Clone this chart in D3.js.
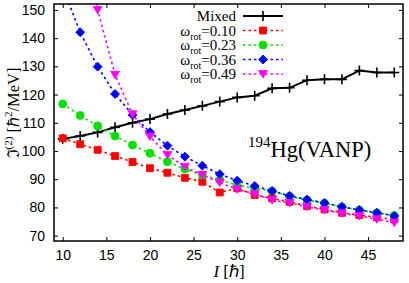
<!DOCTYPE html>
<html>
<head>
<meta charset="utf-8">
<script src="https://cdn.jsdelivr.net/npm/d3@7"></script>
<style>
  body { margin: 0; background: #fff; }
  svg { display: block; }
</style>
</head>
<body>
<div class="chart"></div>
<script>
// spin I (hbar)
var spins = [10, 12, 14, 16, 18, 20, 22, 24, 26, 28, 30, 32, 34, 36, 38, 40, 42, 44, 46, 48];

// dynamic moment of inertia J(2), hbar^2/MeV
var mixed  = [104.3, 105.3, 106.6, 108.4, 110.0, 111.3, 113.1, 114.5, 116.0, 117.5, 119.0, 119.6, 122.2, 122.4, 125.1, 125.4, 125.4, 128.5, 127.8, 127.8];
var w010   = [104.5, 102.4, 100.4, 98.2, 96.1, 93.9, 92.3, 90.5, 89.1, 85.3, 86.8, 84.4, 83.2, 82.0, 80.5, 79.3, 78.1, 77.3, 76.5, 75.8];
var w023   = [116.7, 112.6, 108.9, 105.3, 102.1, 99.2, 96.2, 93.6, 91.5, 89.7, 87.9, 86.8, 85.8, 84.0, 82.6, 81.5, 80.2, 79.1, 78.1, 77.1];
var w036   = [158.0, 142.1, 129.9, 120.2, 112.8, 106.7, 101.9, 98.0, 94.8, 91.8, 89.5, 87.6, 85.8, 84.1, 82.8, 81.6, 80.2, 79.1, 78.1, 77.0];
var w049   = [null, 185.0, 150.0, 127.0, 113.0, 105.1, 98.6, 94.4, 91.5, 88.8, 86.4, 84.8, 82.6, 81.6, 80.2, 79.1, 77.9, 77.0, 75.8, 74.6];

var xTicks = [10, 15, 20, 25, 30, 35, 40, 45];
var yTicks = [70, 80, 90, 100, 110, 120, 130, 140, 150];

var series = [
  {name: "Mixed", sub: null,  values: mixed, color: "#000000", marker: "plus"},
  {name: "ω", val: "0.10", values: w010, color: "#ff0000", marker: "square"},
  {name: "ω", val: "0.23", values: w023, color: "#00e000", marker: "circle"},
  {name: "ω", val: "0.36", values: w036, color: "#0000ff", marker: "diamond"},
  {name: "ω", val: "0.49", values: w049, color: "#ff00ff", marker: "triangle"}
];

var svgWidth = 409, svgHeight = 283;
var margin = {top: 4, right: 6, bottom: 42, left: 54};
var w = svgWidth - margin.left - margin.right,
    h = svgHeight - margin.top - margin.bottom;

var svg = d3.select(".chart").append("svg")
    .attr("width", svgWidth)
    .attr("height", svgHeight);

var g = svg.append("g")
    .attr("transform", "translate(" + margin.left + "," + margin.top + ")");

var x = d3.scaleLinear().domain([9, 49]).range([0, w]);
var y = d3.scaleLinear().domain([68.1, 152.1]).range([h, 0]);

svg.append("defs").append("clipPath").attr("id", "clip")
  .append("rect").attr("width", w).attr("height", h);

// ticks, all pointing inward
var tickFont = "'Liberation Sans', Arial, sans-serif";
g.append("g").attr("transform", "translate(0," + h + ")")
  .call(d3.axisBottom(x).tickValues(xTicks).tickSizeInner(-4).tickSizeOuter(0).tickPadding(9))
  .call(function(a) { a.select(".domain").remove(); });
g.append("g")
  .call(d3.axisTop(x).tickValues(xTicks).tickSizeInner(-4).tickSizeOuter(0).tickFormat(""))
  .call(function(a) { a.select(".domain").remove(); });
g.append("g")
  .call(d3.axisLeft(y).tickValues(yTicks).tickSizeInner(-4).tickSizeOuter(0).tickPadding(9))
  .call(function(a) { a.select(".domain").remove(); });
g.append("g").attr("transform", "translate(" + w + ",0)")
  .call(d3.axisRight(y).tickValues(yTicks).tickSizeInner(-4).tickSizeOuter(0).tickFormat(""))
  .call(function(a) { a.select(".domain").remove(); });

g.selectAll(".tick text")
  .attr("font-family", tickFont)
  .attr("font-size", 14)
  .attr("fill", "#000");
g.selectAll(".tick line").attr("stroke", "#000").attr("stroke-width", 1);

function markerPath(type) {
  if (type === "plus") return "M-5,0H5M0,-5V5";
  if (type === "square") return "M-3.5,-3.5H3.5V3.5H-3.5Z";
  if (type === "diamond") return "M0,-4.5L4.5,0L0,4.5L-4.5,0Z";
  if (type === "triangle") return "M-4.5,-3.5H4.5L0,4Z";
  return d3.symbol().type(d3.symbolCircle).size(50)();
}

var plot = g.append("g").attr("clip-path", "url(#clip)");

var line = d3.line()
  .defined(function(d) { return d[1] != null; })
  .x(function(d) { return x(d[0]); })
  .y(function(d) { return y(d[1]); });

series.forEach(function(s) {
  var pts = spins.map(function(sp, i) { return [sp, s.values[i]]; });
  plot.append("path")
    .datum(pts)
    .attr("fill", "none")
    .attr("stroke", s.color)
    .attr("stroke-width", s.marker === "plus" ? 2 : 1.6)
    .attr("stroke-dasharray", s.marker === "plus" ? null : "2.5,3")
    .attr("d", line);
  plot.selectAll(null)
    .data(pts.filter(function(d) { return d[1] != null; }))
    .enter().append("path")
    .attr("transform", function(d) { return "translate(" + x(d[0]) + "," + y(d[1]) + ")"; })
    .attr("d", markerPath(s.marker))
    .attr("fill", s.marker === "plus" ? "none" : s.color)
    .attr("stroke", s.color)
    .attr("stroke-width", s.marker === "plus" ? 1.6 : 0.8);
});

// frame
g.append("rect")
  .attr("width", w).attr("height", h)
  .attr("fill", "none").attr("stroke", "#000").attr("stroke-width", 1.5);

// legend
var serif = "'Liberation Serif', 'Times New Roman', serif";
var leg = svg.append("g");
series.forEach(function(s, i) {
  var ly = 16 + i * 14.5;
  var t = leg.append("text")
    .attr("x", 236).attr("y", ly + 5)
    .attr("text-anchor", "end")
    .attr("font-family", serif)
    .attr("font-size", 15);
  if (s.marker === "plus") {
    t.text(s.name);
  } else {
    t.append("tspan").text("ω");
    t.append("tspan").attr("font-size", 10).attr("dy", 4).text("rot");
    t.append("tspan").attr("dy", -4).text("=" + s.val);
  }
  leg.append("line")
    .attr("x1", 243).attr("x2", 283).attr("y1", ly).attr("y2", ly)
    .attr("stroke", s.color)
    .attr("stroke-width", s.marker === "plus" ? 2 : 1.6)
    .attr("stroke-dasharray", s.marker === "plus" ? null : "2.5,3");
  leg.append("path")
    .attr("transform", "translate(263," + ly + ")")
    .attr("d", markerPath(s.marker))
    .attr("fill", s.marker === "plus" ? "none" : s.color)
    .attr("stroke", s.color)
    .attr("stroke-width", s.marker === "plus" ? 1.6 : 0.8);
});

// nucleus label
var nl = svg.append("text")
  .attr("x", 248).attr("y", 157)
  .attr("font-family", serif)
  .attr("font-size", 22.5);
nl.append("tspan").attr("font-size", 15).attr("dy", -10).text("194");
nl.append("tspan").attr("dy", 10).text("Hg(VANP)");

// axis titles
var xl = svg.append("text")
  .attr("x", 229).attr("y", 277)
  .attr("text-anchor", "middle")
  .attr("font-family", serif)
  .attr("font-size", 17);
xl.append("tspan").attr("font-style", "italic").text("I");
xl.append("tspan").text(" [ℏ]");

var yl = svg.append("text")
  .attr("transform", "translate(19,113) rotate(-90)")
  .attr("text-anchor", "middle")
  .attr("font-family", serif)
  .attr("font-size", 16.5);
yl.append("tspan").text("ℑ");
yl.append("tspan").attr("font-size", 11).attr("dy", -7).text("(2)");
yl.append("tspan").attr("dy", 7).text(" [ℏ");
yl.append("tspan").attr("font-size", 11).attr("dy", -7).text("2");
yl.append("tspan").attr("dy", 7).text("/MeV]");
</script>
</body>
</html>
